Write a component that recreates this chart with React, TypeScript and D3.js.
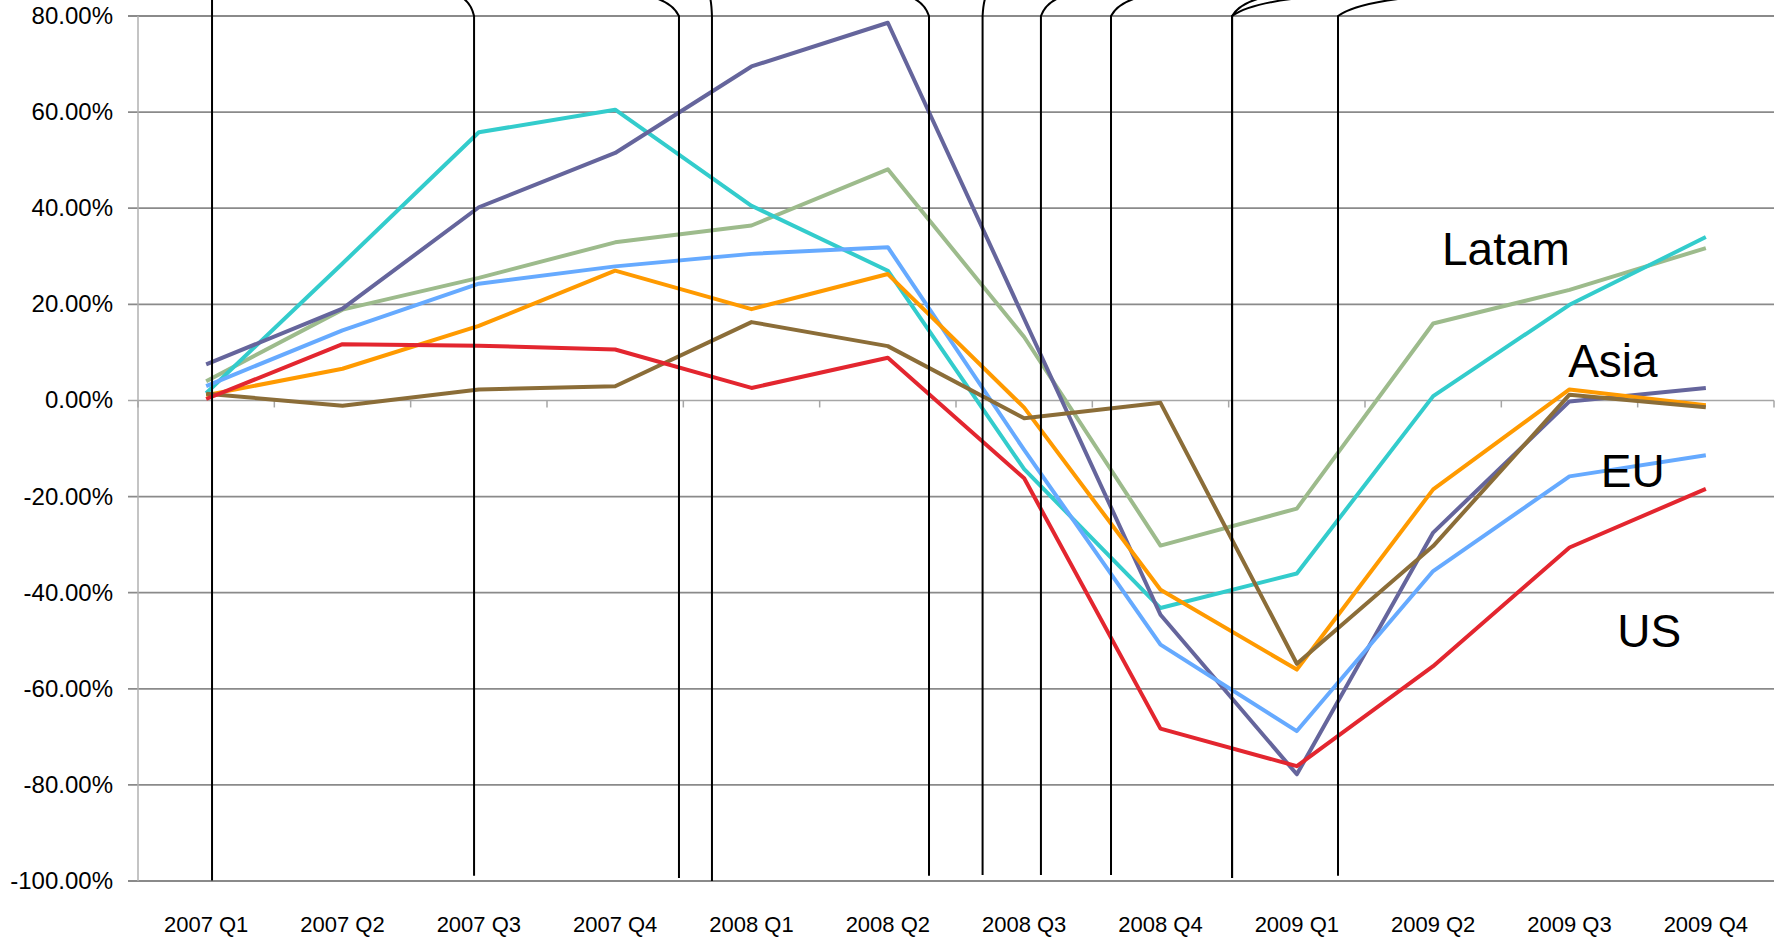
import * as d3 from "d3";

// categories
const quarters = [
  "2007 Q1", "2007 Q2", "2007 Q3", "2007 Q4",
  "2008 Q1", "2008 Q2", "2008 Q3", "2008 Q4",
  "2009 Q1", "2009 Q2", "2009 Q3", "2009 Q4",
];

// y axis ticks (percent)
const yTicks = [80, 60, 40, 20, 0, -20, -40, -60, -80, -100];

// series values, percent change
const greenSeries = [4.0, 18.9, 25.5, 32.9, 36.4, 48.1, 13.2, -30.2, -22.5, 16.0, 23.0, 31.7];
const tealSeries = [1.5, 28.5, 55.8, 60.5, 40.5, 27.0, -14.3, -43.2, -36.0, 0.9, 19.9, 34.0];
const purpleSeries = [7.5, 19.1, 40.2, 51.5, 69.5, 78.6, 17.0, -44.6, -77.8, -27.5, -0.2, 2.6];
const blueSeries = [3.0, 14.6, 24.3, 27.9, 30.5, 31.9, -10.3, -50.8, -68.8, -35.5, -15.8, -11.4];
const orangeSeries = [1.1, 6.6, 15.5, 27.0, 19.0, 26.3, -1.5, -39.4, -56.0, -18.5, 2.3, -1.0];
const brownSeries = [1.4, -1.1, 2.3, 2.95, 16.3, 11.3, -3.7, -0.5, -54.8, -30.3, 1.2, -1.4];
const redSeries = [0.3, 11.7, 11.4, 10.6, 2.6, 8.9, -16.2, -68.3, -76.1, -55.3, -30.6, -18.4];

const series = [
  { key: "green", values: greenSeries, color: "#9dbb8c" },
  { key: "teal", values: tealSeries, color: "#33cccc" },
  { key: "purple", values: purpleSeries, color: "#65659c" },
  { key: "blue", values: blueSeries, color: "#66aaff" },
  { key: "orange", values: orangeSeries, color: "#ff9a00" },
  { key: "brown", values: brownSeries, color: "#8b6d38" },
  { key: "red", values: redSeries, color: "#e3262f" },
];

// region labels: category position (index units) and percent
const regionNames = ["Latam", "Asia", "EU", "US"];
const regionAt = [9.065, 9.99, 10.23, 10.35];
const regionPct = [28.25, 4.97, -18.1, -51.4];

// callout connectors coming from above the chart (index units, bottom end in percent)
const connBottomX = [0.043, 1.965, 3.468, 3.71, 5.302, 5.695, 6.123, 6.637, 7.525, 8.302];
const connBottomPct = [-99.9, -98.9, -99.4, -100.0, -98.9, -98.75, -98.75, -98.75, -99.4, -98.9];
const connTopX = [[0.043], [1.877], [3.285], [3.696], [5.177], [5.716], [6.261], [6.835], [7.749, 8.045], [8.83]];

const W = 1787;
const H = 943;
const left = 138;
const right = 1774;
const top = 16;
const bottom = 881;

export default function App() {
  const x = d3.scaleBand().domain(quarters).range([left, right]).padding(0);
  const bw = x.bandwidth();
  const cx = (q: string) => (x(q) as number) + bw / 2;
  const xi = d3.scaleLinear().domain([-0.5, quarters.length - 0.5]).range([left, right]);
  const y = d3.scaleLinear().domain([80, -100]).range([top, bottom]);

  const line = d3
    .line<number>()
    .x((_, i) => cx(quarters[i]))
    .y((d) => y(d));

  const boundaries = d3.range(quarters.length + 1).map((i) => left + i * bw);

  return (
    <svg
      width={W}
      height={H}
      style={{ position: "absolute", left: 0, top: 0, background: "#fff" }}
      fontFamily="'Liberation Sans', Arial, sans-serif"
    >
      {/* grid */}
      {yTicks.map((t) => (
        <line
          key={t}
          x1={left - 10}
          x2={right}
          y1={y(t)}
          y2={y(t)}
          stroke={t === 0 ? "#a6a6a6" : "#8a8a8a"}
          strokeWidth={t === 0 ? 1.5 : 1.8}
        />
      ))}
      {/* y axis */}
      <line x1={left} x2={left} y1={top} y2={bottom} stroke="#b0b0b0" strokeWidth={1.5} />
      {/* x axis ticks at 0% */}
      {boundaries.map((bx, i) => (
        <line key={i} x1={bx} x2={bx} y1={y(0)} y2={y(0) + 7} stroke="#a6a6a6" strokeWidth={1.5} />
      ))}
      {yTicks.map((t) => (
        <text key={t} x={113} y={y(t) + 8} textAnchor="end" fontSize={24} fill="#000">
          {t.toFixed(2) + "%"}
        </text>
      ))}
      {quarters.map((q) => (
        <text key={q} x={cx(q)} y={932} textAnchor="middle" fontSize={22} fill="#000">
          {q}
        </text>
      ))}

      {/* data lines */}
      {series.map((s) => (
        <path
          key={s.key}
          d={line(s.values) as string}
          fill="none"
          stroke={s.color}
          strokeWidth={4}
          strokeLinejoin="round"
        />
      ))}

      {/* connectors */}
      {connBottomX.map((bxU, i) => {
        const bx = xi(bxU);
        const by = y(connBottomPct[i]);
        const jy = y(80);
        return (
          <g key={i}>
            {connTopX[i].map((txU, j) => {
              const tx = xi(txU);
              const d =
                Math.abs(tx - bx) < 0.5
                  ? `M${bx},${by}L${bx},0`
                  : `M${bx},${by}L${bx},${jy}Q${bx + (tx - bx) * 0.25},${jy * 0.2} ${tx},${-jy * 0.15}`;
              return <path key={j} d={d} fill="none" stroke="#000" strokeWidth={2} />;
            })}
          </g>
        );
      })}

      {/* region labels */}
      {regionNames.map((n, i) => (
        <text key={n} x={xi(regionAt[i])} y={y(regionPct[i])} fontSize={46} fill="#000">
          {n}
        </text>
      ))}
    </svg>
  );
}
